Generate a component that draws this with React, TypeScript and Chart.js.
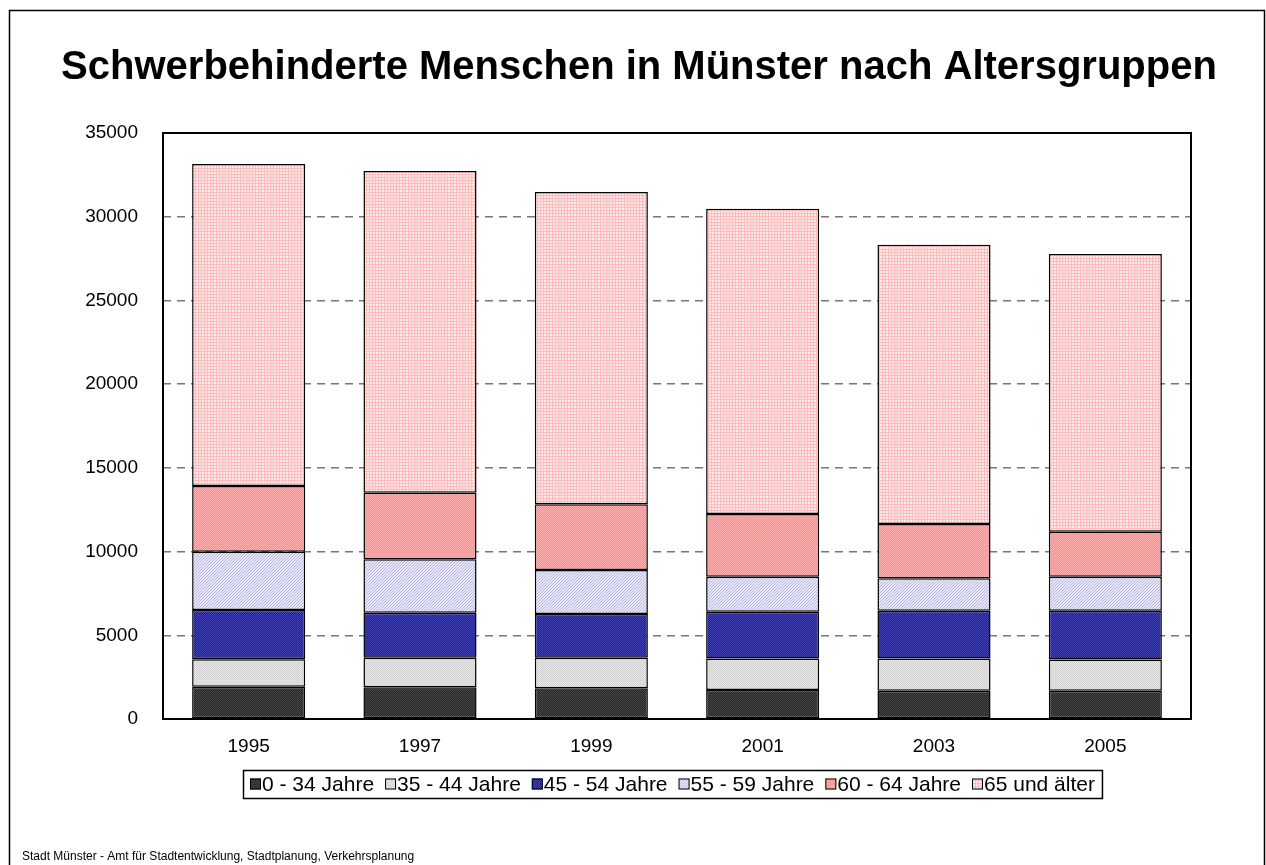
import React, { useEffect, useRef } from "react";
import { Chart, registerables } from "chart.js";

Chart.register(...registerables);

const years = ["1995", "1997", "1999", "2001", "2003", "2005"];
const age0to34 = [1930, 1890, 1830, 1730, 1690, 1680];
const age35to44 = [1640, 1770, 1830, 1890, 1930, 1880];
const age45to54 = [2940, 2690, 2610, 2790, 2850, 2910];
const age55to59 = [3480, 3190, 2630, 2090, 1930, 2030];
const age60to64 = [3920, 3980, 3920, 3750, 3250, 2690];
const age65plus = [19240, 19210, 18660, 18220, 16670, 16590];
const seriesLabels = ["0 - 34 Jahre", "35 - 44 Jahre", "45 - 54 Jahre", "55 - 59 Jahre", "60 - 64 Jahre", "65 und älter"];
const titleText = "Schwerbehinderte Menschen in Münster nach Altersgruppen";
const sourceText = "Stadt Münster - Amt für Stadtentwicklung, Stadtplanung, Verkehrsplanung";
const yMin = 0;
const yMax = 35000;
const yStep = 5000;

const FONT = '"Liberation Sans", Arial, sans-serif';

function makeTile(
  ctx: CanvasRenderingContext2D,
  w: number,
  h: number,
  bg: string,
  fg: string,
  pts: number[][]
): CanvasPattern {
  const c = document.createElement("canvas");
  c.width = w;
  c.height = h;
  const x = c.getContext("2d")!;
  x.fillStyle = bg;
  x.fillRect(0, 0, w, h);
  x.fillStyle = fg;
  for (const [px, py] of pts) x.fillRect(px, py, 1, 1);
  return ctx.createPattern(c, "repeat")!;
}

function makePatterns(ctx: CanvasRenderingContext2D): CanvasPattern[] {
  return [
    makeTile(ctx, 2, 2, "#262626", "#474747", [[0, 0], [1, 1]]),
    makeTile(ctx, 2, 2, "#e6e6e6", "#d2d2d2", [[0, 0], [1, 1]]),
    makeTile(ctx, 2, 2, "#1e1e8e", "#4444b4", [[0, 0], [1, 1]]),
    makeTile(ctx, 3, 3, "#e8e8f8", "#b4b4e2", [[0, 2], [1, 1], [2, 0]]),
    makeTile(ctx, 2, 2, "#ff8e8e", "#ffacac", [[0, 0], [1, 1]]),
    makeTile(ctx, 3, 3, "#ffeaea", "#ffbcbc", [[0, 0], [1, 0], [2, 0], [0, 1], [0, 2]]),
  ];
}

export default function App() {
  const ref = useRef<HTMLCanvasElement | null>(null);

  useEffect(() => {
    const canvas = ref.current!;
    const ctx0 = canvas.getContext("2d")!;
    const patterns = makePatterns(ctx0);
    const values = [age0to34, age35to44, age45to54, age55to59, age60to64, age65plus];

    const decor = {
      id: "decor",
      beforeDraw(chart: any) {
        const c = chart.ctx as CanvasRenderingContext2D;
        c.save();
        c.fillStyle = "#ffffff";
        c.fillRect(0, 0, chart.width, chart.height);
        c.restore();
      },
      afterDatasetsDraw(chart: any) {
        const c = chart.ctx as CanvasRenderingContext2D;
        const a = chart.chartArea;
        c.save();
        c.strokeStyle = "#000000";
        c.lineWidth = 2;
        c.strokeRect(a.left, a.top, a.right - a.left, a.bottom - a.top);
        c.restore();
      },
      afterDraw(chart: any) {
        const c = chart.ctx as CanvasRenderingContext2D;
        c.save();
        // outer frame
        c.strokeStyle = "#000000";
        c.lineWidth = 1.5;
        c.strokeRect(9.5, 10.5, 1255, 880);
        // title
        c.fillStyle = "#000000";
        c.font = `bold 40px ${FONT}`;
        c.textAlign = "center";
        c.textBaseline = "middle";
        c.fillText(titleText, 639, 68);
        // source
        c.font = `12px ${FONT}`;
        c.textAlign = "left";
        c.textBaseline = "middle";
        c.fillText(sourceText, 22, 857);
        // legend
        c.font = `21px ${FONT}`;
        const sw = 11;
        const swGap = 1;
        const itemGap = 11;
        const padX = 7;
        const widths = seriesLabels.map((l) => c.measureText(l).width);
        const total =
          padX * 2 + widths.reduce((s, w) => s + w + sw + swGap, 0) + itemGap * (seriesLabels.length - 1);
        const left = Math.round(672 - total / 2);
        const top = 770;
        const h = 28;
        c.lineWidth = 1.5;
        c.strokeStyle = "#000000";
        c.strokeRect(left + 0.5, top + 0.5, total, h);
        let x = left + padX;
        const cy = top + h / 2 + 1;
        seriesLabels.forEach((l, i) => {
          c.fillStyle = patterns[i];
          c.fillRect(x, cy - sw / 2 - 1, sw, sw);
          c.lineWidth = 1;
          c.strokeStyle = "#000000";
          c.strokeRect(x + 0.5, cy - sw / 2 - 0.5, sw - 1, sw - 1);
          c.fillStyle = "#000000";
          c.fillText(l, x + sw + swGap, cy);
          x += sw + swGap + widths[i] + itemGap;
        });
        c.restore();
      },
    };

    const chart = new Chart(canvas, {
      type: "bar",
      data: {
        labels: years,
        datasets: values.map((v, i) => ({
          label: seriesLabels[i],
          data: v,
          backgroundColor: patterns[i],
          borderColor: "#000000",
          borderWidth: 1.5,
          borderSkipped: false,
          categoryPercentage: 1,
          barPercentage: 0.66,
        })),
      },
      options: {
        responsive: false,
        animation: false,
        devicePixelRatio: 1,
        layout: { padding: { left: 13, right: 75, top: 133, bottom: 106 } },
        plugins: {
          legend: { display: false },
          title: { display: false },
          tooltip: { enabled: false },
        },
        scales: {
          x: {
            stacked: true,
            grid: { display: false, drawTicks: false },
            border: { display: false },
            ticks: { color: "#000000", font: { family: FONT, size: 19 }, padding: 16 },
            afterFit(scale: any) {
              scale.height = 40;
            },
          },
          y: {
            stacked: true,
            min: yMin,
            max: yMax,
            ticks: {
              stepSize: yStep,
              color: "#000000",
              font: { family: FONT, size: 19 },
              padding: 25,
              callback: (v: any) => String(v),
            },
            grid: {
              drawTicks: false,
              color: (c: any) => (c.tick && (c.tick.value === yMin || c.tick.value === yMax) ? "rgba(0,0,0,0)" : "#777777"),
              lineWidth: 1.5,
            },
            border: { display: false, dash: [8, 6] },
            afterFit(scale: any) {
              scale.width = 150;
            },
          },
        },
      } as any,
      plugins: [decor],
    });

    return () => chart.destroy();
  }, []);

  return (
    <canvas
      ref={ref}
      width={1266}
      height={865}
      style={{ position: "fixed", left: 0, top: 0, width: 1266, height: 865 }}
    />
  );
}
